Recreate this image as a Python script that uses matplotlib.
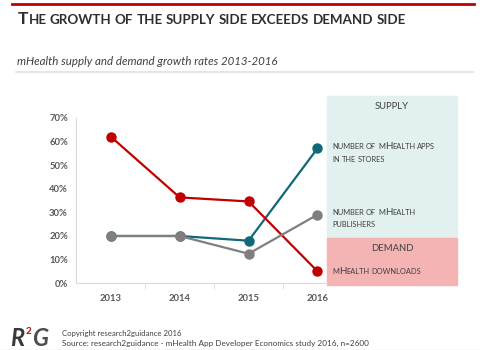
import matplotlib
matplotlib.use('Agg')
import matplotlib.pyplot as plt
from matplotlib.patches import Rectangle
from matplotlib.lines import Line2D
from matplotlib.ticker import FuncFormatter, FixedLocator

# Datos
years = ['2013', '2014', '2015', '2016']
apps = [0.20, 0.20, 0.18, 0.57]          # número de apps mHealth en las tiendas
publishers = [0.20, 0.20, 0.125, 0.29]   # número de publishers mHealth
downloads = [0.62, 0.363, 0.346, 0.051]  # descargas mHealth

W, H = 480, 350
plt.rcParams['font.family'] = ['Lato', 'DejaVu Sans']

fig = plt.figure(figsize=(W / 100, H / 100), dpi=100)
r = fig.canvas.get_renderer()


def fx(x):
    return x / W


def fy(y):
    return 1 - y / H


def smallcaps(x, y, s, big, small, **kw):
    # versalitas: mayúsculas grandes, el resto en mayúsculas pequeñas
    t = fig.text(0, 0, 'A A', fontsize=small, **kw)
    w1 = t.get_window_extent(r).width
    t.set_text('AA')
    sp = w1 - t.get_window_extent(r).width
    t.remove()
    xpos = x
    for i, word in enumerate(s.split(' ')):
        if i:
            xpos += sp
        runs = []
        for ch in word:
            up = ch.isupper()
            if runs and runs[-1][1] == up:
                runs[-1][0] += ch
            else:
                runs.append([ch, up])
        for txt, up in runs:
            t = fig.text(fx(xpos), fy(y), txt.upper(), fontsize=big if up else small,
                         ha='left', va='baseline', **kw)
            xpos += t.get_window_extent(r).width


# Cabecera
fig.add_artist(Line2D([fx(12), fx(474)], [fy(4), fy(4)], color='#c00000', lw=2))
smallcaps(18, 23.5, 'The growth of the supply side exceeds demand side', 12.5, 9.6,
          fontweight='bold', color='#2e2e2e')
fig.text(fx(17), fy(65), 'mHealth supply and demand growth rates 2013-2016',
         fontsize=8.3, style='italic', color='#404040', va='baseline')
fig.add_artist(Line2D([fx(16), fx(473)], [fy(72), fy(72)], color='#e0e0e0', lw=1.2))

# Ejes
left, right, top, bottom = 76.3, 327.3, 117.7, 283.3
ax = fig.add_axes([fx(left), fy(bottom), fx(right - left), (bottom - top) / H])
x = range(len(years))
ax.plot(x, apps, color='#0f6978', lw=1.6, marker='o', ms=6.5, clip_on=False, zorder=3)
ax.plot(x, downloads, color='#c00000', lw=1.6, marker='o', ms=6.5, clip_on=False, zorder=4)
ax.plot(x, publishers, color='#7f7f7f', lw=1.6, marker='o', ms=6.5, clip_on=False, zorder=5)

ax.set_xlim(-0.5, -0.5 + (right - left) / 68.9)
ax.set_ylim(0, 0.70)
ax.set_xticks(list(x))
ax.set_xticklabels(years)
ax.xaxis.set_minor_locator(FixedLocator([0.5, 1.5, 2.5]))
ax.set_yticks([0, 0.1, 0.2, 0.3, 0.4, 0.5, 0.6, 0.7])
ax.yaxis.set_major_formatter(FuncFormatter(lambda v, p: '%d%%' % round(v * 100)))
ax.tick_params(axis='x', which='major', length=0, pad=8, labelsize=6.8, labelcolor='#595959')
ax.tick_params(axis='x', which='minor', length=4, color='#d9d9d9', direction='out')
ax.tick_params(axis='y', length=0, pad=6, labelsize=6.8, labelcolor='#595959')
for lab in ax.get_xticklabels() + ax.get_yticklabels():
    lab.set_fontweight('bold')
ax.spines['top'].set_visible(False)
ax.spines['right'].set_visible(False)
ax.spines['left'].set_color('#d9d9d9')
ax.spines['bottom'].set_color('#d9d9d9')
ax.patch.set_visible(False)

# Panel lateral oferta / demanda
pl, pr = 327.3, 456.7
fig.add_artist(Rectangle((fx(pl), fy(238.3)), fx(pr - pl), (238.3 - 96) / H,
                         transform=fig.transFigure, color='#e2f0f0', zorder=0))
fig.add_artist(Rectangle((fx(pl), fy(285)), fx(pr - pl), (285 - 238.3) / H,
                         transform=fig.transFigure, color='#f4b4b4', zorder=0))
fig.text(fx(392), fy(109), 'SUPPLY', fontsize=6.8, color='#404040', ha='center', va='baseline')
fig.text(fx(392), fy(250.7), 'DEMAND', fontsize=6.8, color='#404040', ha='center', va='baseline')
lab_kw = dict(color='#404040')
smallcaps(332.3, 149.3, 'number of mHealth apps', 7, 5.4, **lab_kw)
smallcaps(332.3, 162, 'in the stores', 7, 5.4, **lab_kw)
smallcaps(332.3, 214.7, 'number of mHealth', 7, 5.4, **lab_kw)
smallcaps(332.3, 227.3, 'publishers', 7, 5.4, **lab_kw)
smallcaps(332.3, 274.3, 'mHealth downloads', 7, 5.4, **lab_kw)

# Pie: logo y fuente
fig.text(fx(10), fy(345.5), 'R', fontsize=17, fontweight='bold', style='italic',
         color='#3a3a3a', va='baseline')
fig.text(fx(25.5), fy(334), '2', fontsize=7, fontweight='bold', color='#c00000', va='baseline')
fig.text(fx(32), fy(345.5), 'G', fontsize=17, fontweight='bold', style='italic',
         color='#4d4d4d', va='baseline')
fig.text(fx(62.3), fy(336), 'Copyright research2guidance 2016', fontsize=5.6,
         color='#404040', va='baseline')
fig.text(fx(62.3), fy(345.7),
         'Source: research2guidance - mHealth App Developer Economics study 2016, n=2600',
         fontsize=5.9, color='#404040', va='baseline')
fig.add_artist(Line2D([fx(0), fx(480)], [fy(349.5), fy(349.5)], color='#e0e0e0', lw=1))

fig.savefig('out.png', dpi=100)
